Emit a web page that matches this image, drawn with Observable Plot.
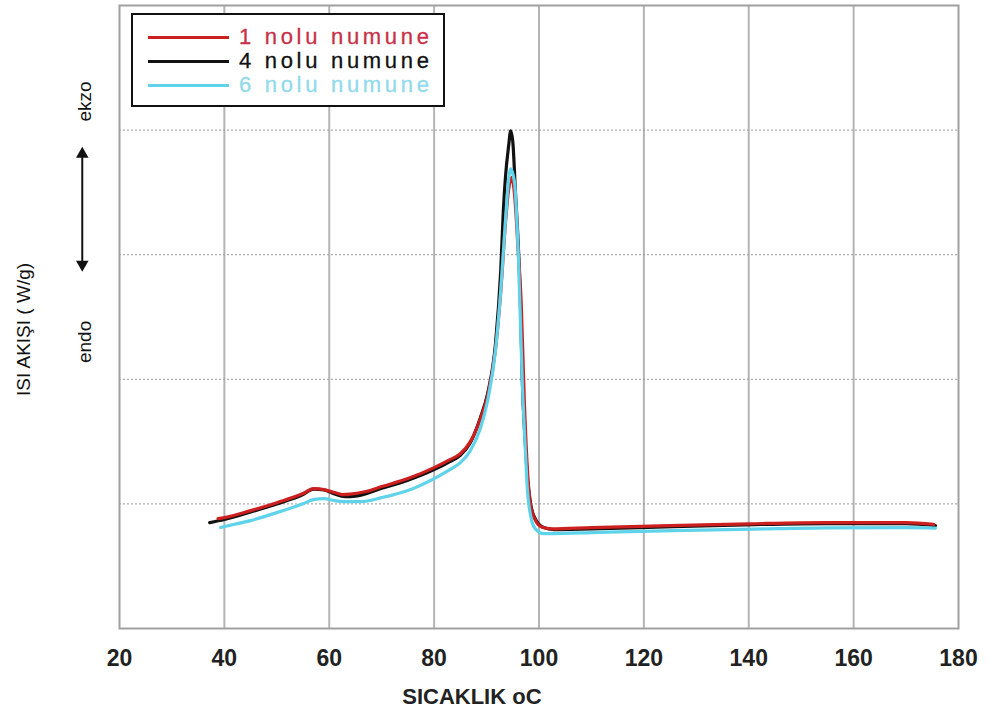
<!DOCTYPE html>
<html>
<head>
<meta charset="utf-8">
<script src="https://cdn.jsdelivr.net/npm/d3@7"></script>
<script src="https://cdn.jsdelivr.net/npm/@observablehq/plot@0.6"></script>
<style>
  html, body { margin: 0; padding: 0; background: #fff; }
  #wrap { position: relative; width: 991px; height: 717px; }
  #legend { position: absolute; left: 131px; top: 13px; width: 310px; height: 90px;
    border: 2px solid #111; background: #fff; font-family: "Liberation Sans", Arial, sans-serif; }
  .row { position: absolute; left: 0; height: 24px; display: flex; align-items: center; }
  .row .sw { width: 81px; height: 3px; margin-left: 15px; margin-right: 10px; }
  .row .lb { font-size: 22px; letter-spacing: 3.7px; line-height: 24px; -webkit-text-stroke: 0.3px currentColor; }
</style>
</head>
<body>
<div id="wrap"></div>
<script>
// ---- data ----
const seriesNames = ["1 nolu numune", "4 nolu numune", "6 nolu numune"];
const seriesColors = ["#cc1f1f", "#111111", "#5fd3ea"];
const labelColors = ["#c83048", "#111111", "#8fdaec"];

const s1x = [38.8, 40, 45, 50, 55, 57, 59, 61, 62.5, 64, 67, 70, 75, 80, 83, 85, 86.9, 88.8, 90.2, 91.7, 92.7, 93.6, 94.2, 94.8, 95.4, 96.0, 96.6, 97.2, 97.8, 98.4, 99.3, 100.5, 102.5, 110, 125, 140, 155, 170, 175.3];
const s1y = [0.882, 0.890, 0.946, 1.010, 1.083, 1.123, 1.115, 1.091, 1.075, 1.079, 1.099, 1.139, 1.203, 1.291, 1.355, 1.403, 1.50, 1.68, 1.87, 2.24, 2.70, 3.25, 3.52, 3.62, 3.45, 3.05, 2.62, 1.83, 1.27, 0.99, 0.87, 0.815, 0.80, 0.81, 0.825, 0.84, 0.85, 0.85, 0.835];

const s4x = [37.2, 40, 45, 50, 55, 57, 59, 61, 63, 65, 70, 75, 80, 83, 85, 86.9, 88.8, 90.2, 91.7, 92.7, 93.2, 93.6, 94.2, 94.6, 95.0, 95.5, 96.1, 96.5, 96.8, 97.4, 97.8, 98.4, 99.3, 100.9, 102.8, 110, 125.6, 140.9, 155, 170, 175.6];
const s4y = [0.850, 0.875, 0.935, 1.000, 1.075, 1.118, 1.112, 1.080, 1.059, 1.063, 1.125, 1.190, 1.275, 1.34, 1.39, 1.49, 1.69, 1.885, 2.285, 2.87, 3.35, 3.62, 3.87, 3.994, 3.91, 3.51, 3.03, 2.55, 2.01, 1.48, 1.21, 1.00, 0.88, 0.81, 0.794, 0.80, 0.818, 0.834, 0.842, 0.842, 0.826];

const s6x = [39.3, 40, 45, 50, 55, 57, 59, 61, 63, 66, 70, 75, 80, 83, 85, 86.9, 88.8, 90.2, 91.7, 92.7, 93.6, 94.2, 94.6, 95.3, 96.1, 96.8, 97.4, 97.8, 98.4, 99.3, 100.9, 102.8, 110, 125.6, 140.9, 155, 170, 175.6];
const s6y = [0.810, 0.818, 0.866, 0.930, 1.002, 1.034, 1.042, 1.026, 1.018, 1.018, 1.050, 1.107, 1.203, 1.275, 1.331, 1.427, 1.604, 1.828, 2.229, 2.71, 3.27, 3.60, 3.689, 3.59, 2.95, 1.99, 1.43, 1.107, 0.906, 0.80, 0.762, 0.762, 0.77, 0.786, 0.798, 0.808, 0.81, 0.806];

const xTicks = [20, 40, 60, 80, 100, 120, 140, 160, 180];
const xGrid = [40, 60, 80, 100, 120, 140, 160];
const yGrid = [1, 2, 3, 4];
const xTitle = "SICAKLIK oC";
const yTitle = "ISI AKIŞI ( W/g)";
const ekzoLabel = "ekzo", endoLabel = "endo";
// annotation anchors in data units
const xTitleAt = 87.2;
const yTitleAt = 2.4;
const ekzoAt = 4.23, endoAt = 2.3;
const arrowX = 12.9, arrowTop = 3.84, arrowBottom = 2.89;

// ---- build ----
const toRows = (xs, ys, name) => xs.map((x, i) => ({x, y: ys[i], name}));
const rows = [
  ...toRows(s4x, s4y, seriesNames[1]),
  ...toRows(s1x, s1y, seriesNames[0]),
  ...toRows(s6x, s6y, seriesNames[2])
];
const order = [seriesNames[1], seriesNames[0], seriesNames[2]];
const colorOf = Object.fromEntries(seriesNames.map((n, i) => [n, seriesColors[i]]));

const narrow = "'Liberation Sans Narrow', 'Liberation Sans', Arial, sans-serif";

const chart = Plot.plot({
  width: 991,
  height: 717,
  marginLeft: 119,
  marginRight: 33,
  marginTop: 5,
  marginBottom: 89,
  style: {background: "#fff", overflow: "visible"},
  x: {domain: [20, 180]},
  y: {domain: [0, 5], axis: null},
  marks: [
    Plot.ruleX(xGrid, {stroke: "#b4b4b4", strokeWidth: 2}),
    Plot.ruleY(yGrid, {stroke: "#9a9a9a", strokeWidth: 1, strokeDasharray: "2,2"}),
    Plot.frame({stroke: "#a0a0a0", strokeWidth: 2}),
    Plot.axisX(xTicks, {tickSize: 0, tickPadding: 21, fontSize: 23, fontWeight: "bold",
      fontFamily: "'Liberation Sans', Arial, sans-serif", fill: "#222", label: null}),
    ...order.map(n => Plot.line(rows.filter(d => d.name === n), {
      x: "x", y: "y", stroke: colorOf[n], strokeWidth: 3.2, curve: "monotone-x"
    })),
    Plot.text([xTitle], {x: () => xTitleAt, frameAnchor: "bottom", dy: 75, text: d => d,
      fontSize: 22, fontWeight: "bold", fontFamily: narrow, fill: "#222"}),
    Plot.text([yTitle], {y: () => yTitleAt, frameAnchor: "left", textAnchor: "middle", dx: -96, rotate: -90, text: d => d,
      fontSize: 19, fontFamily: narrow, fill: "#111"}),
    Plot.text([ekzoLabel], {y: () => ekzoAt, frameAnchor: "left", textAnchor: "middle", dx: -35, rotate: -90, text: d => d,
      fontSize: 19, fontFamily: narrow, fill: "#111"}),
    Plot.text([endoLabel], {y: () => endoAt, frameAnchor: "left", textAnchor: "middle", dx: -35, rotate: -90, text: d => d,
      fontSize: 19, fontFamily: narrow, fill: "#111"}),
    Plot.link([0], {x1: () => arrowX, x2: () => arrowX, y1: () => arrowBottom, y2: () => arrowTop,
      stroke: "#111", strokeWidth: 2}),
    Plot.dot([0], {x: () => arrowX, y: () => arrowTop, symbol: "triangle2", r: 6, fill: "#111", dy: 4}),
    Plot.dot([0], {x: () => arrowX, y: () => arrowBottom, symbol: "triangle2", r: 6, fill: "#111", rotate: 180, dy: -4})
  ]
});

const wrap = document.getElementById("wrap");
wrap.appendChild(chart);

const legend = document.createElement("div");
legend.id = "legend";
seriesNames.forEach((n, i) => {
  const row = document.createElement("div");
  row.className = "row";
  row.style.top = (10 + i * 24) + "px";
  const sw = document.createElement("div");
  sw.className = "sw";
  sw.style.background = seriesColors[i];
  const lb = document.createElement("span");
  lb.className = "lb";
  lb.style.color = labelColors[i];
  lb.textContent = n;
  row.appendChild(sw);
  row.appendChild(lb);
  legend.appendChild(row);
});
wrap.appendChild(legend);
</script>
</body>
</html>
